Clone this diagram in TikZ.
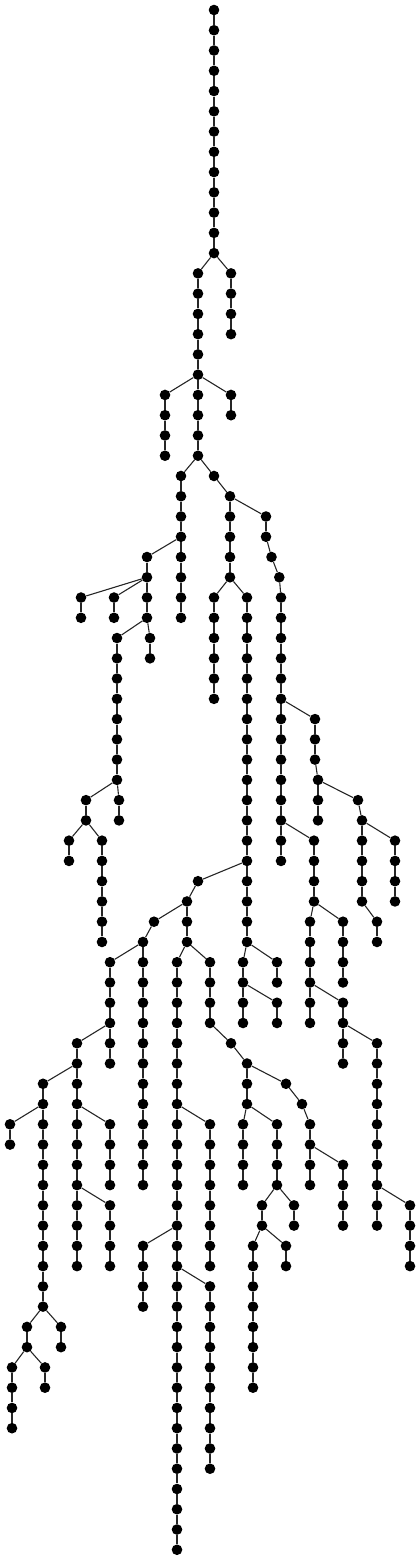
\documentclass[tikz,border=0pt]{standalone}
\begin{document}
\begin{tikzpicture}[x=1pt,y=-20.26pt,
  v/.style={circle,fill=black,draw=none,minimum size=10.6pt,inner sep=0pt},
  e/.style={draw=black!85,line width=1.1pt}]
\useasboundingbox (0,-0.4936) rectangle (420,76.555);
\newcommand\tchain[4]{%
  \foreach \k in {#3,...,#4}{\node[v] (#1-\k) at (#2,\k) {};}%
  \ifnum#4>#3\relax
    \pgfmathtruncatemacro\chs{#3+1}%
    \foreach \k in {\chs,...,#4}{\pgfmathtruncatemacro\kp{\k-1}\draw[e] (#1-\kp) -- (#1-\k);}%
  \fi}
\tchain{A}{214}{0}{12}
\tchain{B}{231}{13}{16}
\tchain{C}{198}{13}{22}
\tchain{D}{165}{19}{22}
\tchain{E}{231}{19}{20}
\tchain{F}{181}{23}{30}
\tchain{G}{214}{23}{23}
\tchain{H}{230}{24}{28}
\tchain{I}{266}{25}{26}
\node[v] (I27) at (271.5,27) {};
\node[v] (I28) at (279.3,28) {};
\tchain{J}{281}{29}{42}
\tchain{K}{147}{27}{30}
\tchain{L}{81}{29}{30}
\tchain{M}{114}{29}{30}
\tchain{N}{117}{31}{38}
\tchain{O}{150}{31}{32}
\tchain{NN}{119}{39}{40}
\tchain{P}{86}{39}{40}
\tchain{Q}{69}{41}{42}
\tchain{R}{102}{41}{46}
\tchain{S}{214}{29}{34}
\tchain{T}{247}{29}{46}
\tchain{U}{315}{35}{37}
\tchain{V}{318}{38}{40}
\tchain{W}{358}{39}{39}
\tchain{X}{362}{40}{44}
\tchain{Y}{395}{41}{44}
\tchain{Z}{377}{45}{46}
\tchain{AA}{314}{41}{44}
\tchain{AB}{310}{45}{50}
\tchain{AC}{343}{45}{48}
\tchain{AD}{343}{49}{52}
\tchain{AE}{377}{51}{60}
\tchain{AF}{410}{59}{62}
\tchain{AG}{198}{43}{43}
\tchain{AH}{187}{44}{46}
\tchain{AI}{154}{45}{45}
\tchain{AJ}{143}{46}{58}
\tchain{AK}{110}{47}{52}
\tchain{AL}{77}{51}{62}
\tchain{AM}{43}{53}{64}
\tchain{AN}{10}{55}{56}
\tchain{AO}{110}{55}{58}
\tchain{AP}{110}{59}{62}
\tchain{AQ}{27}{65}{66}
\tchain{AR}{61}{65}{66}
\tchain{AS}{12}{67}{70}
\tchain{AT}{45}{67}{68}
\tchain{AU}{177}{47}{76}
\tchain{AV}{210}{55}{62}
\tchain{AW}{143}{61}{64}
\tchain{AX}{210}{63}{72}
\tchain{AY}{210}{47}{50}
\tchain{AZ}{231}{51}{51}
\tchain{BA}{247}{52}{54}
\tchain{BB}{286}{53}{53}
\tchain{BC}{302}{54}{54}
\tchain{BD}{310}{55}{58}
\tchain{BE}{343}{57}{60}
\tchain{BF}{243}{55}{58}
\tchain{BG}{277}{55}{58}
\tchain{BH}{262}{59}{60}
\tchain{BI}{294}{59}{60}
\tchain{BJ}{253}{61}{68}
\tchain{BK}{286}{61}{62}
\tchain{BL}{243}{47}{50}
\tchain{BM}{277}{47}{48}
\tchain{BN}{277}{49}{50}
\draw[e] (A-12) -- (B-13);
\draw[e] (A-12) -- (C-13);
\draw[e] (C-18) -- (D-19);
\draw[e] (C-18) -- (E-19);
\draw[e] (C-22) -- (F-23);
\draw[e] (C-22) -- (G-23);
\draw[e] (G-23) -- (H-24);
\draw[e] (H-24) -- (I-25);
\draw[e] (I-26) -- (I27);
\draw[e] (I27) -- (I28);
\draw[e] (I28) -- (J-29);
\draw[e] (F-26) -- (K-27);
\draw[e] (K-28) -- (L-29);
\draw[e] (K-28) -- (M-29);
\draw[e] (K-30) -- (N-31);
\draw[e] (K-30) -- (O-31);
\draw[e] (N-38) -- (NN-39);
\draw[e] (N-38) -- (P-39);
\draw[e] (P-40) -- (Q-41);
\draw[e] (P-40) -- (R-41);
\draw[e] (H-28) -- (S-29);
\draw[e] (H-28) -- (T-29);
\draw[e] (J-34) -- (U-35);
\draw[e] (U-37) -- (V-38);
\draw[e] (V-38) -- (W-39);
\draw[e] (W-39) -- (X-40);
\draw[e] (X-40) -- (Y-41);
\draw[e] (X-44) -- (Z-45);
\draw[e] (J-40) -- (AA-41);
\draw[e] (AA-44) -- (AB-45);
\draw[e] (AA-44) -- (AC-45);
\draw[e] (AB-48) -- (AD-49);
\draw[e] (AD-50) -- (AE-51);
\draw[e] (AE-58) -- (AF-59);
\draw[e] (T-42) -- (AG-43);
\draw[e] (AG-43) -- (AH-44);
\draw[e] (AH-44) -- (AI-45);
\draw[e] (AI-45) -- (AJ-46);
\draw[e] (AJ-46) -- (AK-47);
\draw[e] (AK-50) -- (AL-51);
\draw[e] (AL-52) -- (AM-53);
\draw[e] (AM-54) -- (AN-55);
\draw[e] (AL-54) -- (AO-55);
\draw[e] (AL-58) -- (AP-59);
\draw[e] (AM-64) -- (AQ-65);
\draw[e] (AM-64) -- (AR-65);
\draw[e] (AQ-66) -- (AS-67);
\draw[e] (AQ-66) -- (AT-67);
\draw[e] (AH-46) -- (AU-47);
\draw[e] (AU-54) -- (AV-55);
\draw[e] (AU-60) -- (AW-61);
\draw[e] (AU-62) -- (AX-63);
\draw[e] (AH-46) -- (AY-47);
\draw[e] (AY-50) -- (AZ-51);
\draw[e] (AZ-51) -- (BA-52);
\draw[e] (BA-52) -- (BB-53);
\draw[e] (BB-53) -- (BC-54);
\draw[e] (BC-54) -- (BD-55);
\draw[e] (BD-56) -- (BE-57);
\draw[e] (BA-54) -- (BF-55);
\draw[e] (BA-54) -- (BG-55);
\draw[e] (BG-58) -- (BH-59);
\draw[e] (BG-58) -- (BI-59);
\draw[e] (BH-60) -- (BJ-61);
\draw[e] (BH-60) -- (BK-61);
\draw[e] (T-46) -- (BL-47);
\draw[e] (T-46) -- (BM-47);
\draw[e] (BL-48) -- (BN-49);
\end{tikzpicture}
\end{document}
